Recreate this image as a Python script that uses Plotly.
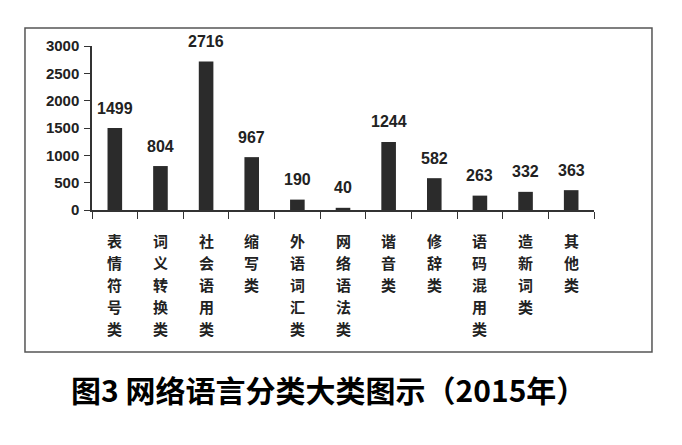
import plotly.graph_objects as go

categories = ["表情符号类", "词义转换类", "社会语用类", "缩写类", "外语词汇类", "网络语法类",
              "谐音类", "修辞类", "语码混用类", "造新词类", "其他类"]
values = [1499, 804, 2716, 967, 190, 40, 1244, 582, 263, 332, 363]
y_ticks = [0, 500, 1000, 1500, 2000, 2500, 3000]
title_text = "图3 网络语言分类大类图示（2015年）"

fig = go.Figure()
fig.add_trace(go.Bar(x=categories, y=values, marker=dict(color="#2b2b2b", line=dict(width=0)),
                     width=0.32))

# value labels above bars
for c, v in zip(categories, values):
    fig.add_annotation(x=c, y=v, text=str(v), showarrow=False, yshift=20,
                       font=dict(family="Liberation Sans, sans-serif",
                                 size=16, color="#222", weight="bold"))

# vertical (stacked) category labels below the axis
for c in categories:
    for j, ch in enumerate(c):
        fig.add_annotation(x=c, y=0, text=ch, showarrow=False, yanchor="middle",
                           yshift=-(30 + 22 * j),
                           font=dict(family="Noto Sans CJK SC", size=15, color="#222",
                                     weight="bold"))

fig.add_shape(type="rect", xref="paper", yref="paper",
              x0=-0.1335, x1=1.1155, y0=-0.866, y1=1.11,
              line=dict(color="#555", width=1.5))

fig.update_layout(
    width=682, height=445,
    margin=dict(l=92, r=88, t=46, b=235),
    paper_bgcolor="white", plot_bgcolor="white",
    showlegend=False,
    title=dict(text=title_text, x=0.482, xanchor="center", y=0.12, yanchor="middle",
               font=dict(family="Noto Sans CJK SC", size=30, color="#000", weight="bold")),
    xaxis=dict(type="category", tickmode="array", tickvals=categories,
               showticklabels=False,
               tickson="boundaries", ticks="outside", ticklen=7, tickcolor="#333",
               showline=True, linecolor="#333", linewidth=1.5, showgrid=False),
    yaxis=dict(range=[0, 3000], tickmode="array", tickvals=y_ticks,
               ticks="outside", ticklen=6, tickcolor="#333",
               showline=True, linecolor="#333", linewidth=1.5, showgrid=False, zeroline=False,
               ticklabelstandoff=2,
               tickfont=dict(family="Liberation Sans, sans-serif",
                             size=15, color="#222", weight="bold")),
)

fig.write_html("out.html")
